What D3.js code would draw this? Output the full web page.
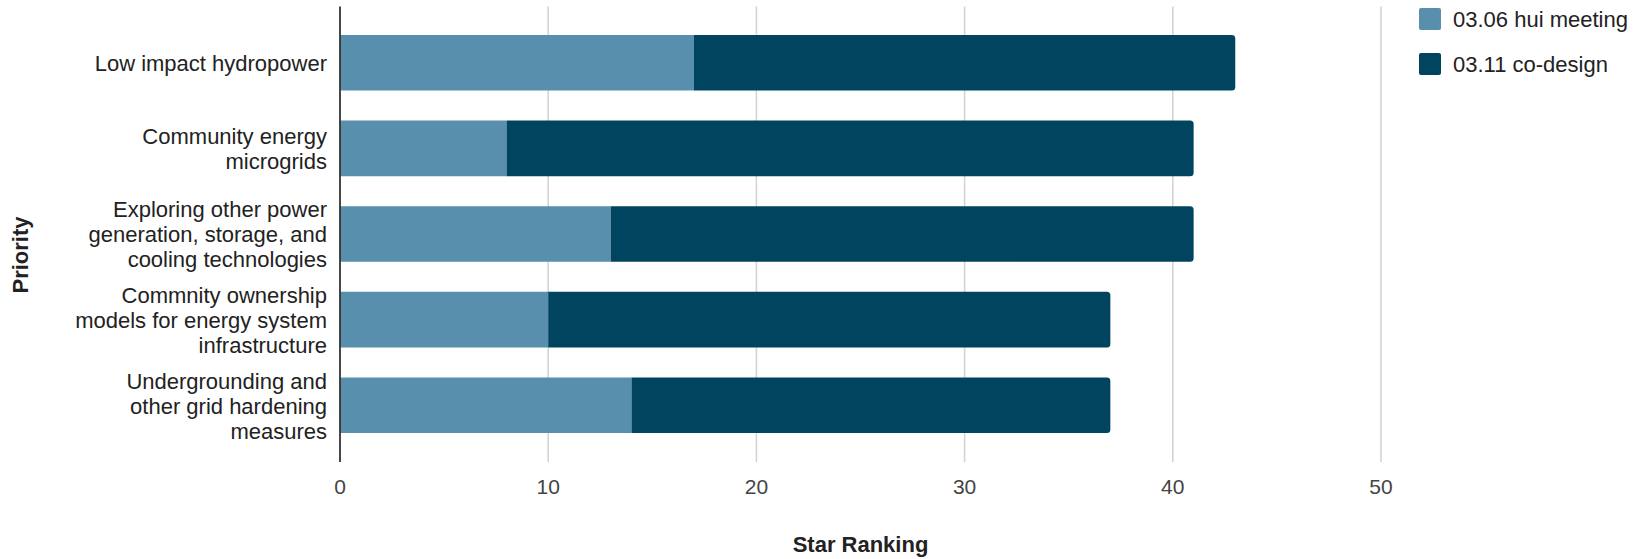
<!DOCTYPE html>
<html>
<head>
<meta charset="utf-8">
<script src="https://cdn.jsdelivr.net/npm/d3@7"></script>
<style>
  html, body { margin: 0; padding: 0; background: #fff; }
  svg { display: block; font-family: Arial, "Liberation Sans", sans-serif; }
</style>
</head>
<body>
<svg id="chart" width="1651" height="559"></svg>
<script>
// Priorities (top to bottom), each label split into display lines
const categories = [
  "Low impact hydropower",
  "Community energy microgrids",
  "Exploring other power generation, storage, and cooling technologies",
  "Commnity ownership models for energy system infrastructure",
  "Undergrounding and other grid hardening measures"
];
const categoryLines = [
  ["Low impact hydropower"],
  ["Community energy", "microgrids"],
  ["Exploring other power", "generation, storage, and", "cooling technologies"],
  ["Commnity ownership", "models for energy system", "infrastructure"],
  ["Undergrounding and", "other grid hardening", "measures"]
];

// Star ranking counts per session
const seriesNames = ["03.06 hui meeting", "03.11 co-design"];
const huiMeeting = [17, 8, 13, 10, 14];
const coDesign   = [26, 33, 28, 27, 23];
const seriesColors = ["#588fad", "#01445f"];

const xTicks = [0, 10, 20, 30, 40, 50];

const svg = d3.select("#chart");

const plotTop = 6.5, plotBottom = 462;
const x = d3.scaleLinear().domain([0, 50]).range([340, 1381]);
const y = d3.scaleBand().domain(categories).range([20, 448])
  .paddingInner(0.35).paddingOuter(0.175);

// Vertical gridlines
svg.append("g").selectAll("line")
  .data(xTicks.filter(t => t !== 0))
  .join("line")
  .attr("x1", d => x(d)).attr("x2", d => x(d))
  .attr("y1", plotTop).attr("y2", plotBottom)
  .attr("stroke", "#d4d4d4").attr("stroke-width", 1.6);

// Stacked bars
const rows = categories.map((c, i) => ({ cat: c, a: huiMeeting[i], b: coDesign[i] }));
const stacked = d3.stack().keys(["a", "b"])(rows);

function barPath(x0, x1, y0, h, r) {
  // rectangle with rounded right-hand corners
  return `M${x0},${y0}H${x1 - r}Q${x1},${y0} ${x1},${y0 + r}V${y0 + h - r}` +
         `Q${x1},${y0 + h} ${x1 - r},${y0 + h}H${x0}Z`;
}

stacked.forEach((layer, li) => {
  svg.append("g").selectAll("path")
    .data(layer)
    .join("path")
    .attr("fill", seriesColors[li])
    .attr("d", d => li === stacked.length - 1
      ? barPath(x(d[0]), x(d[1]), y(d.data.cat), y.bandwidth(), 3.5)
      : barPath(x(d[0]), x(d[1]), y(d.data.cat), y.bandwidth(), 0));
});

// Zero baseline
svg.append("line")
  .attr("x1", x(0)).attr("x2", x(0))
  .attr("y1", plotTop).attr("y2", plotBottom)
  .attr("stroke", "#333").attr("stroke-width", 1.8);

// X tick labels
svg.append("g").selectAll("text")
  .data(xTicks)
  .join("text")
  .attr("x", d => x(d)).attr("y", 494)
  .attr("text-anchor", "middle")
  .attr("font-size", 21).attr("fill", "#444")
  .text(d => d);

// Category labels (multi-line, right aligned)
const lineH = 25;
const catG = svg.append("g");
categories.forEach((c, i) => {
  const lines = categoryLines[i];
  const cy = y(c) + y.bandwidth() / 2;
  const t = catG.append("text")
    .attr("text-anchor", "end")
    .attr("font-size", 22).attr("fill", "#222");
  lines.forEach((ln, j) => {
    t.append("tspan")
      .attr("x", 327)
      .attr("y", cy + (j - (lines.length - 1) / 2) * lineH + 8.3)
      .text(ln);
  });
});

// Axis titles
svg.append("text")
  .attr("x", x(25)).attr("y", 552)
  .attr("text-anchor", "middle")
  .attr("font-size", 22).attr("font-weight", "bold").attr("fill", "#222")
  .text("Star Ranking");

svg.append("text")
  .attr("transform", "translate(28,255) rotate(-90)")
  .attr("text-anchor", "middle")
  .attr("font-size", 22).attr("font-weight", "bold").attr("fill", "#222")
  .text("Priority");

// Legend
const legend = svg.append("g").selectAll("g")
  .data(seriesNames)
  .join("g")
  .attr("transform", (d, i) => `translate(1419,${8 + i * 45})`);
legend.append("rect")
  .attr("width", 22).attr("height", 22).attr("rx", 2)
  .attr("fill", (d, i) => seriesColors[i]);
legend.append("text")
  .attr("x", 34).attr("y", 19)
  .attr("font-size", 22).attr("fill", "#222")
  .text(d => d);
</script>
</body>
</html>
